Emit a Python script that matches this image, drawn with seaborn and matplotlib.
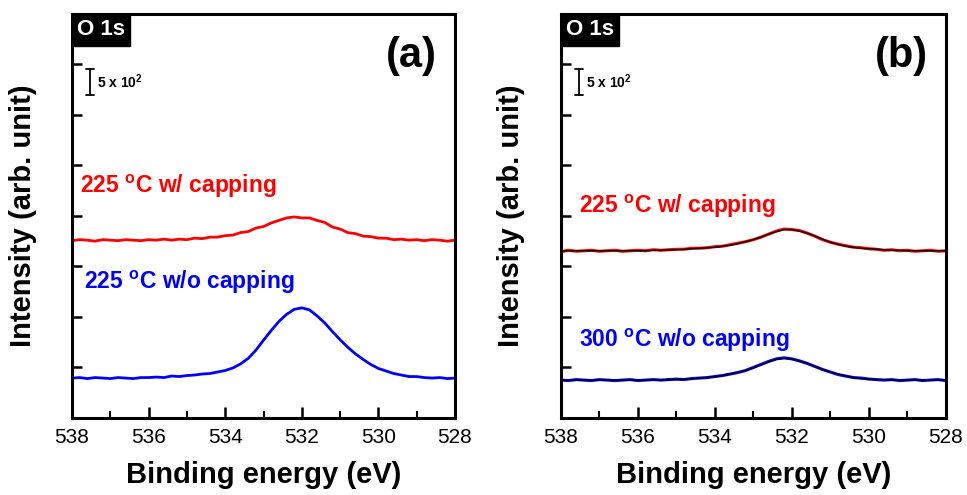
import numpy as np
import pandas as pd
import matplotlib
matplotlib.use('Agg')
import matplotlib.pyplot as plt
import matplotlib.transforms as mtransforms
from matplotlib.patches import Rectangle
from matplotlib.ticker import MultipleLocator
import seaborn as sns

# binding energy grid (eV), 538 -> 528 in 0.2 eV steps
energy = np.round(np.linspace(538.0, 528.0, 51), 1)

# intensity in units of 10^3 counts (offset for display)
a_red_225_cap = [3.51, 3.53, 3.52, 3.50, 3.53, 3.52, 3.51, 3.53, 3.52, 3.51,
                 3.53, 3.52, 3.54, 3.52, 3.54, 3.53, 3.56, 3.55, 3.58, 3.58,
                 3.61, 3.62, 3.67, 3.69, 3.76, 3.79, 3.86, 3.91, 3.96, 3.98,
                 3.96, 3.96, 3.91, 3.87, 3.78, 3.74, 3.67, 3.65, 3.60, 3.59,
                 3.56, 3.56, 3.53, 3.54, 3.52, 3.53, 3.51, 3.53, 3.52, 3.50,
                 3.52]
a_blue_225_nocap = [0.79, 0.80, 0.78, 0.80, 0.79, 0.78, 0.80, 0.79, 0.78, 0.80,
                    0.80, 0.81, 0.80, 0.83, 0.82, 0.84, 0.85, 0.87, 0.88, 0.91,
                    0.94, 0.99, 1.07, 1.18, 1.34, 1.54, 1.73, 1.91, 2.05, 2.15,
                    2.18, 2.14, 2.02, 1.88, 1.71, 1.55, 1.40, 1.27, 1.16, 1.06,
                    0.98, 0.93, 0.88, 0.85, 0.82, 0.82, 0.80, 0.79, 0.80, 0.78,
                    0.79]
b_red_225_cap = [3.29, 3.32, 3.30, 3.31, 3.32, 3.30, 3.31, 3.32, 3.30, 3.31,
                 3.32, 3.31, 3.33, 3.32, 3.33, 3.34, 3.34, 3.36, 3.36, 3.37,
                 3.39, 3.40, 3.43, 3.46, 3.49, 3.53, 3.58, 3.64, 3.70, 3.74,
                 3.73, 3.71, 3.66, 3.60, 3.53, 3.48, 3.44, 3.41, 3.38, 3.37,
                 3.35, 3.34, 3.32, 3.33, 3.31, 3.32, 3.30, 3.31, 3.32, 3.30,
                 3.31]
b_red_fit = [3.31, 3.31, 3.31, 3.31, 3.31, 3.31, 3.31, 3.31, 3.31, 3.31,
             3.31, 3.31, 3.32, 3.32, 3.33, 3.33, 3.34, 3.35, 3.36, 3.37,
             3.38, 3.40, 3.42, 3.45, 3.49, 3.53, 3.58, 3.64, 3.69, 3.73,
             3.73, 3.70, 3.66, 3.60, 3.54, 3.48, 3.44, 3.40, 3.38, 3.36,
             3.35, 3.34, 3.33, 3.32, 3.32, 3.31, 3.31, 3.31, 3.31, 3.31,
             3.31]
b_blue_300_nocap = [0.75, 0.74, 0.76, 0.75, 0.74, 0.76, 0.75, 0.74, 0.75, 0.76,
                    0.74, 0.75, 0.76, 0.75, 0.76, 0.77, 0.76, 0.78, 0.79, 0.80,
                    0.82, 0.84, 0.87, 0.90, 0.94, 1.00, 1.06, 1.12, 1.17, 1.19,
                    1.17, 1.13, 1.08, 1.02, 0.96, 0.91, 0.86, 0.83, 0.80, 0.79,
                    0.77, 0.76, 0.75, 0.76, 0.74, 0.75, 0.76, 0.74, 0.75, 0.76,
                    0.74]
b_blue_fit = [0.75, 0.75, 0.75, 0.75, 0.75, 0.75, 0.75, 0.75, 0.75, 0.75,
              0.75, 0.75, 0.75, 0.75, 0.76, 0.76, 0.77, 0.78, 0.79, 0.80,
              0.82, 0.84, 0.87, 0.90, 0.94, 0.99, 1.05, 1.11, 1.16, 1.18,
              1.17, 1.13, 1.08, 1.02, 0.96, 0.91, 0.87, 0.83, 0.80, 0.78,
              0.77, 0.76, 0.76, 0.75, 0.75, 0.75, 0.75, 0.75, 0.75, 0.75,
              0.75]

x_ticks = [538, 536, 534, 532, 530, 528]

sns.set_style('ticks')
plt.rcParams['font.family'] = ['Liberation Sans', 'DejaVu Sans']
plt.rcParams['mathtext.fontset'] = 'custom'
plt.rcParams['mathtext.rm'] = 'Liberation Sans'
plt.rcParams['mathtext.bf'] = 'Liberation Sans:bold'
plt.rcParams['text.color'] = 'black'
plt.rcParams['axes.labelcolor'] = 'black'
plt.rcParams['xtick.color'] = 'black'
plt.rcParams['ytick.color'] = 'black'

fig = plt.figure(figsize=(9.67, 4.95), dpi=100)
ax_a = fig.add_axes([0.0745, 0.1556, 0.396, 0.8164])
ax_b = fig.add_axes([0.580, 0.1556, 0.398, 0.8164])


def draw_curve(ax, y, color, lw=2.0):
    df = pd.DataFrame({'energy': energy, 'intensity': y})
    sns.lineplot(data=df, x='energy', y='intensity', color=color,
                 linewidth=lw, ax=ax, estimator=None, sort=False)


draw_curve(ax_a, a_red_225_cap, '#ff0000')
draw_curve(ax_a, a_blue_225_nocap, '#0000ff')
draw_curve(ax_b, b_red_225_cap, '#ff0000', lw=2.2)
draw_curve(ax_b, b_red_fit, 'black', lw=1.0)
draw_curve(ax_b, b_blue_300_nocap, '#0000ff', lw=2.2)
draw_curve(ax_b, b_blue_fit, 'black', lw=1.0)

deg = r'$^{\mathbf{o}}$'
labels = {
    ax_a: [(537.79, 4.59, '225 ' + deg + 'C w/ capping', '#ff0000'),
           (537.69, 2.69, '225 ' + deg + 'C w/o capping', '#0000ff')],
    ax_b: [(537.53, 4.18, '225 ' + deg + 'C w/ capping', '#ff0000'),
           (537.53, 1.54, '300 ' + deg + 'C w/o capping', '#0000ff')],
}

for ax, tag in [(ax_a, '(a)'), (ax_b, '(b)')]:
    ax.set_xlim(538, 528)
    ax.set_ylim(0, 8)
    ax.xaxis.set_major_locator(MultipleLocator(2))
    ax.xaxis.set_minor_locator(MultipleLocator(1))
    ax.yaxis.set_major_locator(MultipleLocator(1))
    ax.set_xticks(x_ticks)
    ax.set_yticklabels([])
    ax.tick_params(axis='x', which='major', direction='in', length=8, width=1.8,
                   labelsize=15, pad=7, top=False)
    ax.tick_params(axis='x', which='minor', direction='in', length=5, width=1.5,
                   top=False)
    ax.tick_params(axis='y', which='major', direction='in', length=7, width=1.8,
                   right=False)
    for s in ax.spines.values():
        s.set_linewidth(2.2)
        s.set_color('black')
        s.set_visible(True)
    ax.set_xlabel('Binding energy (eV)', fontsize=21, fontweight='bold', labelpad=10)
    ax.set_ylabel('Intensity (arb. unit)', fontsize=21, fontweight='bold', labelpad=22)

    # O 1s tag box
    ax.add_patch(Rectangle((0, 0.921), 0.151, 0.079, transform=ax.transAxes,
                           facecolor='black', edgecolor='black', zorder=5,
                           clip_on=False))
    ax.text(0.075, 0.9605, 'O 1s', transform=ax.transAxes, color='white',
            fontsize=16, fontweight='bold', ha='center', va='center', zorder=6)

    ax.text(0.953, 0.896, tag, transform=ax.transAxes, fontsize=30,
            fontweight='bold', ha='right', va='center')

    # 5 x 10^2 scale bar
    trans = mtransforms.blended_transform_factory(ax.transAxes, ax.transData)
    ax.plot([0.047, 0.047], [6.40, 6.90], color='black', lw=1.3, transform=trans)
    ax.plot([0.037, 0.057], [6.90, 6.90], color='black', lw=1.3, transform=trans)
    ax.plot([0.037, 0.057], [6.40, 6.40], color='black', lw=1.3, transform=trans)
    ax.text(0.065, 6.65, r'5 x 10$^{\mathbf{2}}$', transform=trans, fontsize=10,
            fontweight='bold', ha='left', va='center')

    for x, y, txt, c in labels[ax]:
        ax.text(x, y, txt, color=c, fontsize=16.5, fontweight='bold',
                ha='left', va='center')

fig.savefig('out.png', dpi=100)
